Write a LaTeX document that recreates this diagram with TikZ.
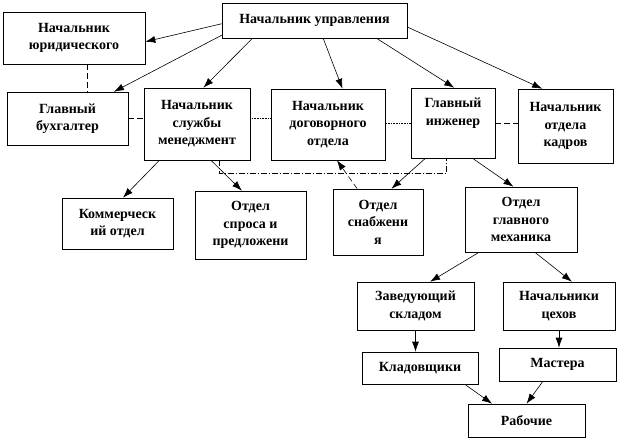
\documentclass[tikz,border=0pt]{standalone}
\usepackage{fontspec}
\setmainfont{Liberation Serif}
\usetikzlibrary{arrows.meta,calc}

\begin{document}
\begin{tikzpicture}[x=1pt,y=-1pt,line width=.6pt,
	every node/.style={draw,rectangle,align=center,inner sep=0pt,font=\fontsize{14}{17.5}\selectfont\bfseries},
	arr/.style={-{Latex[length=10pt,width=7pt]}},
	dsh/.style={dash pattern=on 6pt off 3pt},
	dts/.style={densely dotted},
	mix/.style={dash pattern=on 6pt off 2pt on 1pt off 2pt}]
				\useasboundingbox (0,0) rectangle (624,440);
				%top row placed by hand
				\node[minimum width=185pt, minimum height=35pt] (upr) at (314.5,20.5){Начальник управления};
				\node[minimum width=142pt, minimum height=52pt] (yur) at (74,38){Начальник\\юридического};
				%% second row
				\node[minimum width=121pt, minimum height=53pt] (buh) at (67.5,118.5){Главный\\бухгалтер};
				\node[minimum width=106pt, minimum height=72pt] (men) at (197,124){Начальник\\службы\\менеджмент};
				\node[minimum width=114pt, minimum height=71pt] (dog) at (328,124.5){Начальник\\договорного\\отдела};
				\node[minimum width=84pt, minimum height=70pt] (ing) at (453,123){Главный\\инженер\\\strut};
				\node[minimum width=95pt, minimum height=74pt] (kadr) at (565.5,126){Начальник\\отдела\\кадров};
				%% third row
				\node[minimum width=111pt, minimum height=51pt] (kom) at (117.5,223.5){Коммерческ\\ий отдел};
				\node[minimum width=111pt, minimum height=68pt] (spros) at (250.5,225){Отдел\\спроса и\\предложени};
				\node[minimum width=90pt, minimum height=66pt] (snab) at (378,222){Отдел\\снабжени\\я};
				\node[minimum width=112pt, minimum height=65pt] (meh) at (521,219.5){Отдел\\главного\\механика};
				%% lower part
				\node[minimum width=117pt, minimum height=48pt] (zav) at (415.5,306){Заведующий\\складом};
				\node[minimum width=112pt, minimum height=48pt] (ceh) at (559,306){Начальники\\цехов};
				\node[minimum width=116pt, minimum height=32pt] (klad) at (420,368){Кладовщики};
				\node[minimum width=117pt, minimum height=33pt] (mast) at (557.5,364.5){Мастера};
				\node[minimum width=117pt, minimum height=33pt] (rab) at (526.5,420.5){Рабочие};

				%arrows from the top
				\draw [arr](upr.182)--(yur.-3);
				\draw [arr](upr.189)--(buh.30);
				\draw [arr](upr.196)--(men.80);
				\draw [arr](upr.-64)--(dog.68);
				\draw [arr](upr.-16)--(ing.88);
				\draw [arr](upr.-4)--(kadr.122);
				\draw [arr](men.224)--(kom.78);
				\draw [arr](men.-69)--(spros.104);
				\draw [arr](ing.232)--(snab.68);
				\draw [arr](ing.-61)--(meh.103);
				\draw [arr,dsh](snab.122)--(dog.-76);
				\draw [arr](meh.218)--(zav.59);
				\draw [arr](meh.-67)--(ceh.62);
				\draw [arr](zav.south)--(zav.south |- klad.north);
				\draw [arr](ceh.south)--(ceh.south |- mast.north);
				\draw [arr](klad.-20)--(rab.154);
				\draw [arr](mast.229)--(rab.north);
				%% links without arrows
				\draw [dsh](yur.-63)--(yur.-63 |- buh.north);
				\draw [dsh](buh.east)--(buh.east -| men.west);
				\draw [dts](men.6)--(men.6 -| dog.west);
				\draw [dts](ing.west)--(ing.west -| dog.east);
				\draw [dsh](ing.east)--(ing.east -| kadr.west);
				\draw [mix](men.-59)--++(0,13)-|(ing.260);
				\end{tikzpicture}
\end{document}
